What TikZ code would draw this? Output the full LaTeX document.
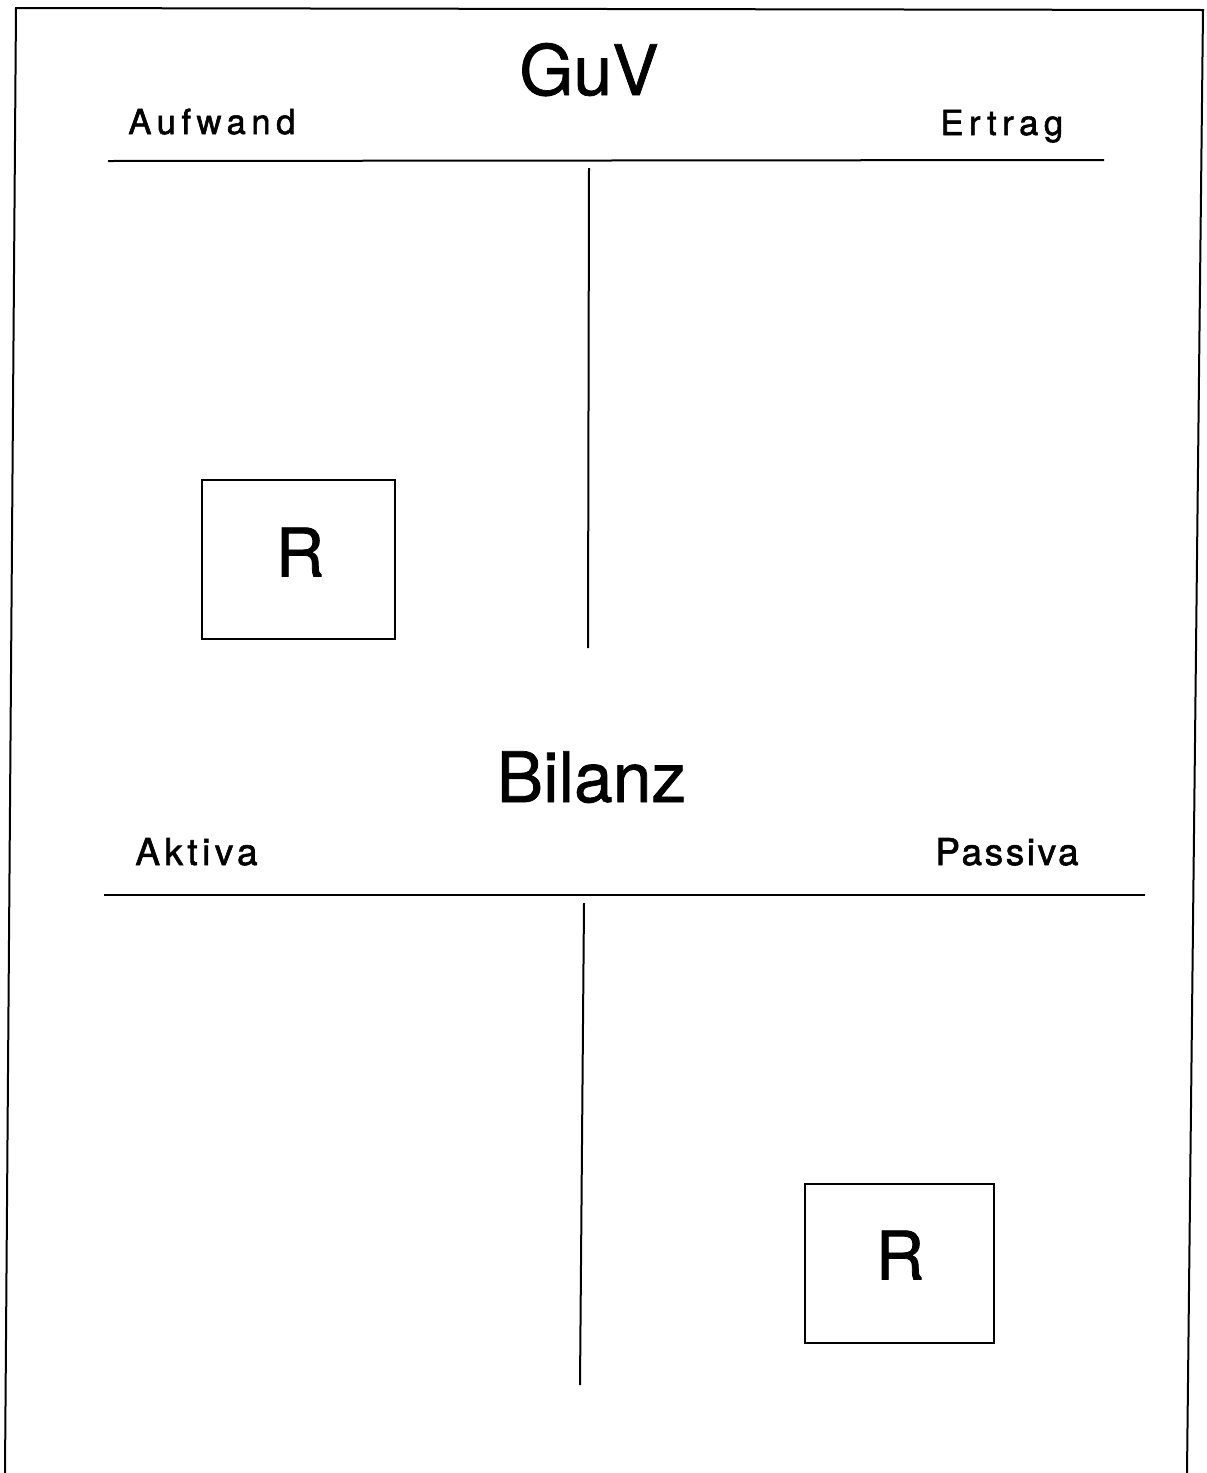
\documentclass[tikz,border=0pt]{standalone}
\usepackage{fontspec}
\setmainfont{TeX Gyre Heros}
\begin{document}
\begin{tikzpicture}[x=0.5pt,y=-0.5pt,
  rule/.style={line width=1pt},
  frameline/.style={line width=1pt},
  title/.style={inner sep=0pt,anchor=base,font=\fontsize{34.8}{40}\selectfont\addfontfeatures{FakeBold=1}},
  headA/.style={inner sep=0pt,anchor=base west,font=\fontsize{17.3}{20}\selectfont\addfontfeatures{LetterSpace=16,FakeBold=1.6}},
  headB/.style={inner sep=0pt,anchor=base west,font=\fontsize{18.5}{22}\selectfont\addfontfeatures{LetterSpace=12,FakeBold=1.6}},
  headC/.style={inner sep=0pt,anchor=base west,font=\fontsize{18.5}{22}\selectfont\addfontfeatures{LetterSpace=7,FakeBold=1.6}},
  rbox/.style={draw,line width=1pt,inner sep=0pt,minimum height=79.5pt},
  rlet/.style={inner sep=0pt,font=\fontsize{33.4}{38}\selectfont\addfontfeatures{FakeBold=1.2}}]
\useasboundingbox (0,0) rectangle (1206,1473);
% outer frame (open at the bottom)
\coordinate (fbl) at (5,1473);
\coordinate (ftl) at (16,8);
\coordinate (ftr) at (1203,10);
\coordinate (fbr) at (1187,1473);
\draw[frameline] (fbl) -- (ftl) -- (ftr) -- (fbr);
% GuV
\node[title] (guv) at (589,95) {GuV};
\node[headA] (aufwand) at (128,134) {Aufwand};
\node[headA] (ertrag) at (940,135) {Ertrag};
\coordinate (g1) at (108,161);
\coordinate (g2) at (1104,160);
\draw[rule] (g1) -- (g2);
\coordinate (gv1) at (589,168);
\coordinate (gv2) at (588,648);
\draw[rule] (gv1) -- (gv2);
\node[rbox,minimum width=96.5pt] (box1) at (298.5,559.5) {};
\node[rlet] (r1) at (300,552) {R};
% Bilanz
\node[title] (bilanz) at (591.5,802) {Bilanz};
\node[headB] (aktiva) at (135,865) {Aktiva};
\node[headC] (passiva) at (935,865) {Passiva};
\coordinate (b1) at (104,895);
\coordinate (b2) at (1145,895);
\draw[rule] (b1) -- (b2);
\coordinate (bv1) at (584,903);
\coordinate (bv2) at (580,1385);
\draw[rule] (bv1) -- (bv2);
\node[rbox,minimum width=94.5pt] (box2) at (899.5,1263.5) {};
\node[rlet] (r2) at (900,1255) {R};
\end{tikzpicture}
\end{document}
